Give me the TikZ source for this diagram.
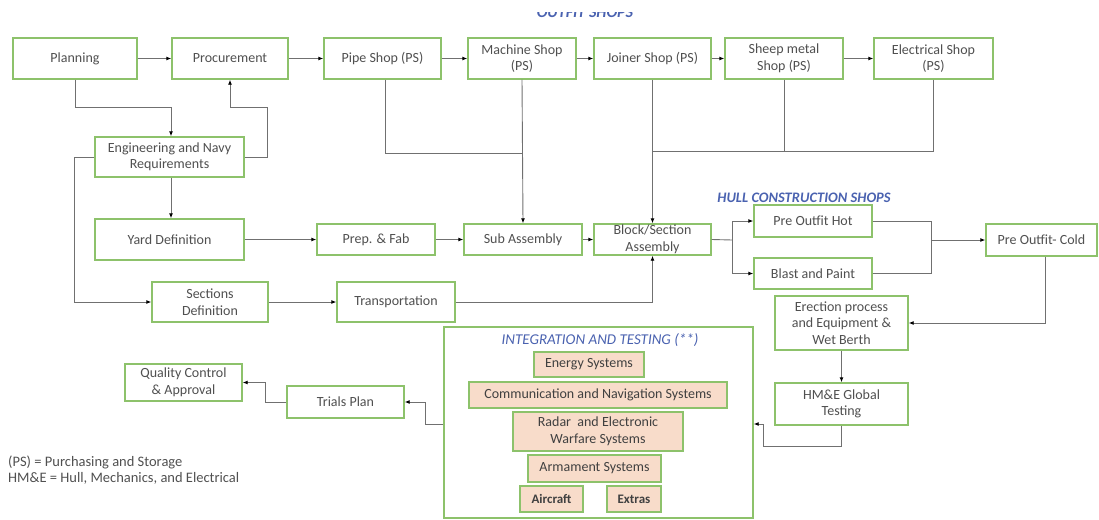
\documentclass[tikz,border=0pt]{standalone}
\usepackage{fontspec}
\setmainfont{Carlito}
\usetikzlibrary{arrows.meta}
\definecolor{boxgreen}{HTML}{8DC26B}
\definecolor{peach}{HTML}{F8DCCA}
\definecolor{txtgray}{HTML}{505050}
\definecolor{linegray}{HTML}{707070}
\definecolor{titleblue}{HTML}{4A62B0}
\tikzset{
  box/.style={draw=boxgreen, line width=1.4pt, fill=white, inner sep=0pt, align=center, text=txtgray, font=\fontsize{14}{16.5}\selectfont},
  sysbox/.style={box, fill=peach, text=black!75},
  conn/.style={draw=linegray, line width=0.9pt, -{Latex[length=5pt,width=4pt,color=black]}},
  plain/.style={draw=linegray, line width=0.9pt},
  title/.style={text=titleblue, font=\fontsize{14.5}{16}\selectfont\itshape\bfseries},
}
\begin{document}
\begin{tikzpicture}[x=1pt,y=-1pt]
\useasboundingbox (0,0) rectangle (1099,519);
\clip (0,0) rectangle (1099,519);
% titles
\node[title, font=\fontsize{16}{18}\selectfont\itshape\bfseries] (outfit) at (585,12.5) {OUTFIT SHOPS};
\fill[white] (500,-2) rectangle (670,12);
\node[title] (hull) at (804,198) {HULL CONSTRUCTION SHOPS};
% top row
\node[box, minimum width=124pt, minimum height=41pt] (plan) at (75,58.5) {Planning};
\node[box, minimum width=116pt, minimum height=41pt] (proc) at (230,58.5) {Procurement};
\node[box, minimum width=117pt, minimum height=41pt] (pipe) at (382.5,58.5) {Pipe Shop (PS)};
\node[box, minimum width=108pt, minimum height=41pt] (mach) at (522,58.5) {Machine Shop\\(PS)};
\node[box, minimum width=117pt, minimum height=41pt] (join) at (652.5,58.5) {Joiner Shop (PS)};
\node[box, minimum width=118pt, minimum height=41pt] (sheep) at (784,58.5) {Sheep metal\\Shop (PS)};
\node[box, minimum width=119pt, minimum height=41pt] (elec) at (933.5,58.5) {Electrical Shop\\(PS)};
% left column
\node[box, minimum width=149pt, minimum height=40pt] (eng) at (169.5,157) {Engineering and Navy\\Requirements};
\node[box, minimum width=149pt, minimum height=41pt] (yard) at (169.5,239.5) {Yard Definition};
\node[box, minimum width=118pt, minimum height=31pt] (prep) at (376,239.5) {Prep. \& Fab};
\node[box, minimum width=118pt, minimum height=31pt] (sub) at (523,239.5) {Sub Assembly};
\node[box, minimum width=117pt, minimum height=31pt] (block) at (652.5,239.5) {Block/Section\\Assembly};
\node[box, minimum width=116pt, minimum height=40pt] (sect) at (210,302) {Sections\\Definition};
\node[box, minimum width=118pt, minimum height=40pt] (trans) at (396,302) {Transportation};
% hull
\node[box, minimum width=118pt, minimum height=32pt] (hot) at (813,221) {Pre Outfit Hot};
\node[box, minimum width=118pt, minimum height=31pt] (blast) at (813,273.5) {Blast and Paint};
\node[box, minimum width=111pt, minimum height=32pt] (cold) at (1041.5,240) {Pre Outfit- Cold};
\node[box, minimum width=133pt, minimum height=54pt] (erec) at (841.5,323) {Erection process\\and Equipment \&\\Wet Berth};
\node[box, minimum width=133pt, minimum height=42pt] (hme) at (841.5,404) {HM\&E Global\\Testing};
% integration
\node[box, minimum width=309pt, minimum height=191pt] (integ) at (598.5,422.5) {};
\node[text=titleblue, font=\fontsize{15}{17}\selectfont\itshape] (integt) at (600,340) {INTEGRATION AND TESTING (**)};
\node[sysbox, minimum width=110pt, minimum height=25pt] (energy) at (589,364.5) {Energy Systems};
\node[sysbox, minimum width=258pt, minimum height=26pt] (comm) at (598,395) {Communication and Navigation Systems};
\node[sysbox, minimum width=170pt, minimum height=39pt] (radar) at (598,431.5) {Radar\ \ and Electronic\\Warfare Systems};
\node[sysbox, minimum width=133pt, minimum height=27pt] (arm) at (594.5,468.5) {Armament Systems};
\node[sysbox, minimum width=63pt, minimum height=26pt, font=\fontsize{13}{15}\selectfont\bfseries] (air) at (551.5,499) {Aircraft};
\node[sysbox, minimum width=54pt, minimum height=26pt, font=\fontsize{13}{15}\selectfont\bfseries] (extra) at (634,499) {Extras};
% trials
\node[box, minimum width=117pt, minimum height=32pt] (trial) at (345.5,402) {Trials Plan};
\node[box, minimum width=117pt, minimum height=37pt] (qc) at (183.5,382.5) {Quality Control\\\& Approval};
% legend
\node[anchor=west, text=txtgray, font=\fontsize{14.5}{16}\selectfont, align=left, inner sep=0pt] (leg) at (8,470) {(PS) = Purchasing and Storage\\HM\&E = Hull, Mechanics, and Electrical};
% connectors top row
\draw[conn] (plan) -- (proc);
\draw[conn] (proc) -- (pipe);
\draw[conn] (pipe) -- (mach);
\draw[conn] (mach) -- (join);
\draw[conn] (join) -- (sheep);
\draw[conn] (sheep) -- (elec);
% planning/eng
\draw[conn] (plan.south) |- (171,107) -- (eng.north -| 171,0);
\draw[conn] (eng.east) -- (267,157) -- (267,107) -| (proc.south);
\draw[conn] (eng.west) -- (74,157) |- (sect.west);
\draw[conn] (eng.south -| 171,0) -- (yard.north -| 171,0);
\draw[conn] (yard) -- (prep);
\draw[conn] (prep) -- (sub);
\draw[conn] (sub) -- (block);
\draw[conn] (sect) -- (trans);
\draw[conn] (trans.east) -| (block.south);
% shops to assembly
\draw[plain] (pipe.south -| 385,0) |- (mach.south |- 0,153);
\draw[conn] (mach.south) -- (sub.north);
\draw[plain] (elec.south) |- (653,151);
\draw[plain] (sheep.south) -- (sheep.south |- 0,151);
\draw[conn] (join.south) -- (block.north);
% hull
\coordinate (bj) at (732,240);
\draw[plain] (block.east) -- (bj);
\draw[conn] (bj) |- (hot.west);
\draw[conn] (bj) |- (blast.west);
\coordinate (hj) at (931,240);
\draw[plain] (hot.east) -| (hj);
\draw[plain] (blast.east) -| (hj);
\draw[conn] (hj) -- (cold.west);
\draw[conn] (cold.south -| 1045,0) |- (erec.east);
\draw[conn] (erec) -- (hme);
\draw[conn] (hme.south) -- (841.5,446) -- (763,446) |- (integ.east |- 0,424);
\draw[conn] (integ.west |- 0,424) -- (425,424) |- (trial.east);
\draw[conn] (trial.west) -- (265,402) |- (qc.east);
\end{tikzpicture}
\end{document}
